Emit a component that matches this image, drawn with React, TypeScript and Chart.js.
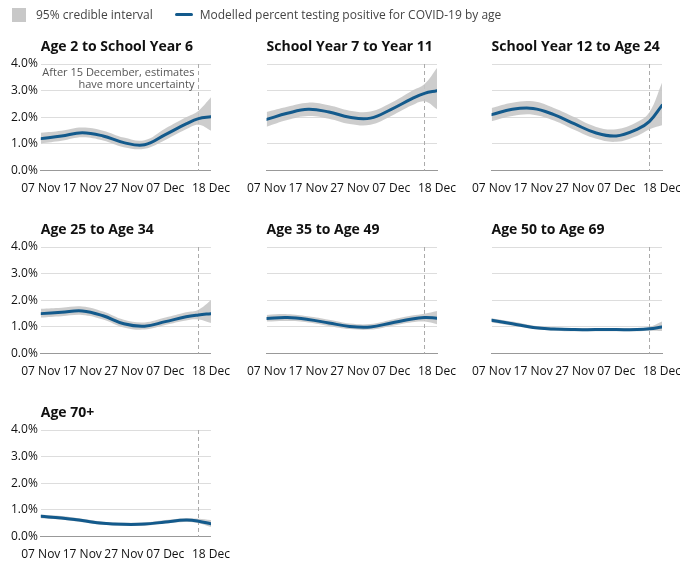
import React, { useEffect, useRef } from "react";
import { Chart, registerables } from "chart.js";

Chart.register(...registerables);

const days = [0, 5, 10, 15, 20, 25, 30, 35, 38, 41];
const tickDays = [0, 10, 20, 30, 41];
const tickLabels = ["07 Nov", "17 Nov", "27 Nov", "07 Dec", "18 Dec"];
const cutoffDay = 38;

const titles = [
  "Age 2 to School Year 6",
  "School Year 7 to Year 11",
  "School Year 12 to Age 24",
  "Age 25 to Age 34",
  "Age 35 to Age 49",
  "Age 50 to Age 69",
  "Age 70+",
];

const central = [
  [1.2, 1.3, 1.42, 1.3, 1.05, 0.97, 1.35, 1.75, 1.95, 2.02],
  [1.92, 2.15, 2.3, 2.2, 2.0, 1.97, 2.3, 2.7, 2.9, 3.0],
  [2.1, 2.3, 2.33, 2.1, 1.75, 1.42, 1.3, 1.55, 1.85, 2.45],
  [1.5, 1.55, 1.6, 1.42, 1.12, 1.03, 1.2, 1.38, 1.45, 1.5],
  [1.32, 1.35, 1.28, 1.15, 1.02, 1.0, 1.15, 1.3, 1.35, 1.33],
  [1.25, 1.12, 0.98, 0.92, 0.9, 0.9, 0.9, 0.9, 0.93, 1.0],
  [0.76, 0.7, 0.6, 0.5, 0.46, 0.47, 0.55, 0.62, 0.58, 0.48],
];
const lower = [
  [1.02, 1.12, 1.25, 1.13, 0.88, 0.82, 1.15, 1.55, 1.72, 1.5],
  [1.65, 1.9, 2.05, 1.95, 1.75, 1.72, 2.05, 2.45, 2.6, 2.3],
  [1.85, 2.05, 2.1, 1.88, 1.52, 1.2, 1.08, 1.3, 1.55, 1.7],
  [1.35, 1.4, 1.45, 1.28, 0.98, 0.9, 1.07, 1.24, 1.28, 1.15],
  [1.2, 1.22, 1.17, 1.04, 0.92, 0.9, 1.04, 1.18, 1.2, 1.1],
  [1.17, 1.05, 0.92, 0.86, 0.84, 0.84, 0.84, 0.84, 0.86, 0.85],
  [0.69, 0.63, 0.54, 0.44, 0.4, 0.41, 0.49, 0.55, 0.5, 0.36],
];
const upper = [
  [1.42, 1.5, 1.62, 1.5, 1.24, 1.14, 1.58, 2.0, 2.25, 2.75],
  [2.2, 2.4, 2.55, 2.45, 2.25, 2.22, 2.55, 3.0, 3.25, 3.85],
  [2.35, 2.55, 2.6, 2.35, 2.0, 1.65, 1.55, 1.82, 2.2, 3.3],
  [1.68, 1.72, 1.77, 1.58, 1.27, 1.17, 1.35, 1.55, 1.65, 2.0],
  [1.45, 1.48, 1.4, 1.27, 1.13, 1.11, 1.27, 1.43, 1.5, 1.6],
  [1.33, 1.2, 1.05, 0.98, 0.96, 0.96, 0.96, 0.96, 1.0, 1.2],
  [0.83, 0.77, 0.67, 0.56, 0.52, 0.53, 0.62, 0.69, 0.67, 0.62],
];

const FONT = "'Open Sans', sans-serif";
const BLUE = "#135a8c";

const pts = (vals: number[]) => days.map((d, i) => ({ x: d, y: vals[i] }));

const Panel: React.FC<{ idx: number; col: number }> = ({ idx, col }) => {
  const canvasRef = useRef<HTMLCanvasElement>(null);
  const first = col === 0;

  useEffect(() => {
    const canvas = canvasRef.current;
    if (!canvas) return;
    const overlay = {
      id: "overlay",
      beforeDatasetsDraw(chart: any) {
        const { ctx, chartArea, scales } = chart;
        const x = scales.x.getPixelForValue(cutoffDay);
        ctx.save();
        ctx.strokeStyle = "#aaaaaa";
        ctx.lineWidth = 1;
        ctx.setLineDash([4, 3]);
        ctx.beginPath();
        ctx.moveTo(x, chartArea.top);
        ctx.lineTo(x, chartArea.bottom);
        ctx.stroke();
        ctx.restore();
      },
      afterDatasetsDraw(chart: any) {
        const { ctx, chartArea, scales } = chart;
        const x = scales.x.getPixelForValue(cutoffDay);
        ctx.save();
        if (idx === 0) {
          ctx.fillStyle = "#555";
          ctx.font = `11px ${FONT}`;
          ctx.textAlign = "right";
          ctx.textBaseline = "top";
          ctx.fillText("After 15 December, estimates", x - 4, chartArea.top + 3);
          ctx.fillText("have more uncertainty", x - 4, chartArea.top + 15);
        }
        ctx.fillStyle = "#111";
        ctx.font = `bold 14px ${FONT}`;
        ctx.textAlign = "left";
        ctx.textBaseline = "bottom";
        ctx.fillText(titles[idx], chartArea.left, chartArea.top - 10);
        ctx.restore();
      },
    };
    const chart = new Chart(canvas, {
      type: "line",
      data: {
        datasets: [
          { data: pts(upper[idx]), order: 2, borderWidth: 0, pointRadius: 0, fill: false, tension: 0.4, borderColor: "transparent" },
          { data: pts(lower[idx]), order: 1, borderWidth: 0, pointRadius: 0, fill: "-1", tension: 0.4, borderColor: "transparent", backgroundColor: "rgba(200,200,200,0.9)" },
          { data: pts(central[idx]), order: 0, borderWidth: 3, pointRadius: 0, fill: false, tension: 0.4, borderColor: BLUE, borderCapStyle: "round" },
        ],
      },
      options: {
        responsive: false,
        animation: false,
        layout: { padding: { top: 34, right: first ? 14 : 25, left: first ? 0 : 6 } },
        plugins: { legend: { display: false }, tooltip: { enabled: false } },
        scales: {
          x: {
            type: "linear",
            min: 0,
            max: 41,
            afterBuildTicks: (axis: any) => {
              axis.ticks = tickDays.map((v) => ({ value: v }));
            },
            ticks: {
              autoSkip: false,
              maxRotation: 0,
              color: "#111",
              font: { family: FONT, size: 12 },
              callback: (v: any) => tickLabels[tickDays.indexOf(Number(v))] ?? "",
            },
            grid: { display: false, drawTicks: true },
            border: { color: "#999" },
          },
          y: {
            min: 0,
            max: 4,
            ticks: {
              stepSize: 1,
              display: first,
              color: "#111",
              font: { family: FONT, size: 12 },
              callback: (v: any) => Number(v).toFixed(1) + "%",
            },
            grid: { color: "#dddddd", drawTicks: false },
            border: { display: false },
          },
        },
      },
      plugins: [overlay],
    });
    return () => chart.destroy();
  }, [idx, col]);

  return <canvas ref={canvasRef} width={first ? 225 : 218} height={169} style={{ display: "block" }} />;
};

export default function App() {
  const lefts = [8, 244, 469];
  return (
    <div style={{ position: "fixed", left: 0, top: 0, width: 680, height: 563, fontFamily: FONT, overflow: "hidden" }}>
      <div style={{ position: "absolute", left: 12, top: 6, display: "flex", alignItems: "center", fontSize: 12, color: "#444" }}>
        <span style={{ width: 14, height: 14, background: "#c8c8c8", display: "inline-block", marginRight: 10 }} />
        <span style={{ marginRight: 22 }}>95% credible interval</span>
        <span style={{ width: 18, height: 3, background: BLUE, display: "inline-block", marginRight: 7, borderRadius: 2 }} />
        <span>Modelled percent testing positive for COVID-19 by age</span>
      </div>
      {titles.map((_, i) => {
        const col = i % 3;
        const row = Math.floor(i / 3);
        return (
          <div key={i} style={{ position: "absolute", left: lefts[col], top: 30 + row * 183 }}>
            <Panel idx={i} col={col} />
          </div>
        );
      })}
    </div>
  );
}
